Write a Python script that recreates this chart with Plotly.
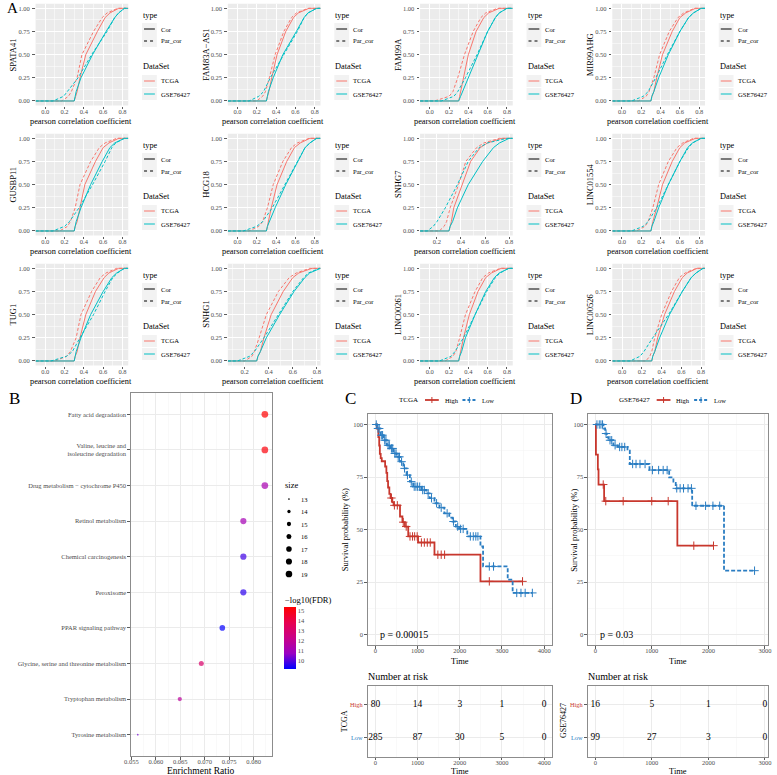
import plotly.graph_objects as go

W, H = 777, 775
SERIF = "Liberation Serif"
TCGA_COL = "#F8766D"
GSE_COL = "#00BFC4"
HIGH_COL = "#C8372D"
LOW_COL = "#2A7DC2"
TICK_COL = "#4D4D4D"

# ---------------- Panel A data (ECDF quantiles) ----------------
genes = ["SPATA41", "FAM83A−AS1", "FAM99A", "MIR99AHG",
         "GUSBP11", "HCG18", "SNHG7", "LINC01554",
         "TUG1", "SNHG1", "LINC00261", "LINC00526"]
ecdf_levels = [0, 0.05, 0.1, 0.25, 0.5, 0.75, 0.9, 0.95, 1.0]
tcga_cor_q = [
    [0.30, 0.315, 0.33, 0.36, 0.42, 0.54, 0.62, 0.67, 0.76],
    [0.30, 0.31, 0.325, 0.355, 0.41, 0.50, 0.58, 0.63, 0.74],
    [0.30, 0.31, 0.32, 0.35, 0.40, 0.48, 0.56, 0.61, 0.72],
    [0.30, 0.31, 0.33, 0.36, 0.42, 0.52, 0.60, 0.66, 0.76],
    [0.30, 0.31, 0.33, 0.36, 0.41, 0.52, 0.60, 0.66, 0.76],
    [0.30, 0.31, 0.32, 0.35, 0.41, 0.51, 0.59, 0.65, 0.75],
    [0.30, 0.31, 0.32, 0.34, 0.41, 0.48, 0.56, 0.62, 0.74],
    [0.30, 0.31, 0.32, 0.36, 0.42, 0.52, 0.60, 0.65, 0.76],
    [0.30, 0.31, 0.33, 0.36, 0.42, 0.52, 0.61, 0.66, 0.76],
    [0.30, 0.31, 0.33, 0.36, 0.42, 0.52, 0.60, 0.65, 0.76],
    [0.30, 0.31, 0.32, 0.35, 0.41, 0.50, 0.58, 0.64, 0.74],
    [0.30, 0.31, 0.33, 0.36, 0.43, 0.53, 0.61, 0.66, 0.76],
]
tcga_par_q = [
    [0.17, 0.24, 0.27, 0.33, 0.38, 0.50, 0.59, 0.64, 0.75],
    [0.20, 0.26, 0.29, 0.33, 0.39, 0.48, 0.56, 0.61, 0.73],
    [0.05, 0.20, 0.24, 0.29, 0.36, 0.45, 0.53, 0.58, 0.70],
    [0.17, 0.25, 0.28, 0.33, 0.39, 0.49, 0.58, 0.64, 0.75],
    [0.15, 0.23, 0.26, 0.31, 0.36, 0.47, 0.56, 0.62, 0.74],
    [0.12, 0.22, 0.26, 0.31, 0.37, 0.47, 0.56, 0.62, 0.74],
    [0.22, 0.26, 0.28, 0.31, 0.38, 0.44, 0.53, 0.59, 0.72],
    [0.15, 0.24, 0.27, 0.32, 0.38, 0.48, 0.57, 0.63, 0.74],
    [0.10, 0.22, 0.26, 0.32, 0.37, 0.48, 0.57, 0.63, 0.74],
    [0.20, 0.26, 0.28, 0.32, 0.38, 0.48, 0.57, 0.63, 0.74],
    [0.16, 0.24, 0.27, 0.31, 0.37, 0.47, 0.55, 0.61, 0.73],
    [0.24, 0.28, 0.30, 0.33, 0.40, 0.50, 0.58, 0.64, 0.75],
]
gse_cor_q = [
    [0.30, 0.31, 0.32, 0.37, 0.49, 0.63, 0.72, 0.76, 0.82],
    [0.30, 0.31, 0.32, 0.37, 0.47, 0.61, 0.69, 0.73, 0.82],
    [0.30, 0.32, 0.34, 0.40, 0.50, 0.60, 0.68, 0.72, 0.80],
    [0.30, 0.31, 0.33, 0.38, 0.48, 0.60, 0.69, 0.74, 0.82],
    [0.30, 0.31, 0.32, 0.37, 0.47, 0.59, 0.67, 0.72, 0.82],
    [0.30, 0.31, 0.33, 0.39, 0.50, 0.62, 0.70, 0.75, 0.82],
    [0.30, 0.31, 0.33, 0.37, 0.46, 0.58, 0.67, 0.72, 0.80],
    [0.30, 0.31, 0.33, 0.38, 0.48, 0.60, 0.68, 0.73, 0.82],
    [0.30, 0.31, 0.32, 0.37, 0.47, 0.60, 0.69, 0.74, 0.82],
    [0.30, 0.31, 0.33, 0.38, 0.49, 0.61, 0.70, 0.74, 0.82],
    [0.30, 0.31, 0.33, 0.37, 0.47, 0.58, 0.67, 0.72, 0.82],
    [0.30, 0.31, 0.33, 0.38, 0.48, 0.61, 0.70, 0.75, 0.82],
]
gse_par_q = [
    [0.08, 0.19, 0.23, 0.34, 0.48, 0.64, 0.72, 0.76, 0.82],
    [0.12, 0.22, 0.27, 0.34, 0.48, 0.62, 0.69, 0.73, 0.82],
    [0.12, 0.25, 0.29, 0.37, 0.49, 0.60, 0.68, 0.72, 0.80],
    [0.10, 0.22, 0.27, 0.35, 0.47, 0.60, 0.69, 0.74, 0.82],
    [0.08, 0.20, 0.25, 0.35, 0.49, 0.62, 0.69, 0.73, 0.82],
    [0.06, 0.20, 0.26, 0.36, 0.49, 0.62, 0.70, 0.75, 0.82],
    [0.12, 0.17, 0.20, 0.27, 0.37, 0.46, 0.55, 0.62, 0.78],
    [0.10, 0.22, 0.27, 0.36, 0.48, 0.60, 0.69, 0.73, 0.82],
    [0.06, 0.22, 0.28, 0.36, 0.50, 0.62, 0.70, 0.75, 0.82],
    [0.14, 0.24, 0.28, 0.36, 0.48, 0.60, 0.69, 0.73, 0.82],
    [0.10, 0.22, 0.26, 0.35, 0.47, 0.59, 0.68, 0.73, 0.82],
    [0.08, 0.18, 0.22, 0.31, 0.47, 0.61, 0.70, 0.75, 0.82],
]
x_ranges_A = [[-0.10, 0.86]] * 6 + [[0.06, 0.83]] + [[-0.10, 0.86]] * 2 + [[0.06, 0.83]] + [[-0.10, 0.86], [-0.10, 0.84]]

# ---------------- Panel B data ----------------
pathways = ["Fatty acid degradation",
            "Valine, leucine and<br>isoleucine degradation",
            "Drug metabolism − cytochrome P450",
            "Retinol metabolism",
            "Chemical carcinogenesis",
            "Peroxisome",
            "PPAR signaling pathway",
            "Glycine, serine and threonine metabolism",
            "Tryptophan metabolism",
            "Tyrosine metabolism"]
enrich_ratio = [0.0823, 0.0823, 0.0823, 0.0779, 0.0779, 0.0779, 0.0736, 0.0693, 0.0649, 0.0563]
gene_count = [19, 19, 19, 18, 18, 18, 17, 16, 15, 13]
neglog_fdr = [15.4, 15.2, 11.2, 11.1, 9.8, 9.6, 9.2, 13.1, 11.8, 10.3]
size_legend_vals = [13, 14, 15, 16, 17, 18, 19]
fdr_ticks = [10, 11, 12, 13, 14, 15]
enrich_ticks = [0.055, 0.060, 0.065, 0.070, 0.075, 0.080]

# ---------------- Panel C data (TCGA) ----------------
tcga_high_t = [0, 35, 70, 90, 105, 125, 150, 230, 260, 280, 300, 330, 360, 400, 430, 583, 640, 700, 778, 1011, 1400, 2490, 3487]
tcga_high_s = [100, 98, 94, 90, 86, 84, 82.5, 80, 77, 73, 70, 67, 65, 63, 61.5, 56.2, 53.5, 51.4, 46.7, 43.8, 38.0, 25.3, 25.3]
tcga_high_cens = [380, 450, 520, 660, 730, 820, 880, 930, 990, 1090, 1160, 1230, 1300, 1480, 1560, 1640, 2700, 3487]
tcga_low_t = [0, 39, 117, 195, 272, 350, 428, 506, 583, 661, 739, 817, 895, 1089, 1206, 1284, 1400, 1517, 1634,
              1751, 1828, 1906, 1984, 2178, 2490, 2552, 3136, 3253, 3720]
tcga_low_s = [100, 98.1, 94.9, 92.5, 90.1, 88.6, 86.2, 84.6, 82.3, 79.1, 75.9, 72.8, 70.4, 68.8, 67.2, 64.9, 62.5,
              60.4, 57.7, 55.7, 53.8, 51.4, 50.3, 46.7, 41.9, 32.4, 26.1, 19.8, 19.8]
tcga_low_cens = [20, 60, 90, 140, 170, 220, 250, 300, 330, 380, 410, 460, 490, 540, 570, 620, 690, 760, 850, 920,
                 960, 1000, 1050, 1120, 1160, 1250, 1330, 1450, 1560, 1700, 1850, 1950, 2020, 2080, 2250, 2320,
                 2380, 2430, 2700, 2800, 3350, 3450, 3550, 3720]
tcga_risk_times = [0, 1000, 2000, 3000, 4000]
tcga_risk_high = [80, 14, 3, 1, 0]
tcga_risk_low = [285, 87, 30, 5, 0]
tcga_p = "p = 0.00015"

# ---------------- Panel D data (GSE76427) ----------------
gse_high_t = [0, 11, 45, 57, 156, 1451, 2090]
gse_high_s = [100, 85.7, 78.6, 71.4, 63.5, 42.3, 42.3]
gse_high_cens = [140, 185, 493, 998, 1289, 1742, 2090]
gse_low_t = [0, 145, 174, 203, 232, 319, 395, 569, 610, 958, 1306, 1381, 1422, 1713, 2276, 2816]
gse_low_s = [100, 98.1, 95.7, 94.0, 92.5, 90.1, 89.3, 87.5, 81.2, 78.3, 74.8, 72.2, 69.6, 61.3, 30.4, 30.4]
gse_low_cens = [29, 70, 99, 128, 190, 260, 290, 350, 430, 470, 520, 660, 720, 790, 880, 1010, 1120, 1200, 1270,
                1440, 1500, 1560, 1640, 1700, 1780, 1950, 2080, 2200, 2816]
gse_risk_times = [0, 1000, 2000, 3000]
gse_risk_high = [16, 5, 1, 0]
gse_risk_low = [99, 27, 3, 0]
gse_p = "p = 0.03"

# =====================================================================
fig = go.Figure()
layout = {}
annotations = []
shapes = []


def ax_name(i, kind):
    return kind + ("" if i == 1 else str(i))


def add_axes(i, x0, x1, ytop, ybot, xopts, yopts):
    xa = dict(domain=[x0 / W, x1 / W], anchor=ax_name(i, "y"))
    xa.update(xopts)
    ya = dict(domain=[1 - ybot / H, 1 - ytop / H], anchor=ax_name(i, "x"))
    ya.update(yopts)
    layout[ax_name(i, "xaxis")] = xa
    layout[ax_name(i, "yaxis")] = ya


def ann(text, px, py, size, color="black", xanchor="center", yanchor="middle", angle=0):
    annotations.append(dict(text=text, x=px / W, y=1 - py / H, xref="paper", yref="paper", showarrow=False,
                            font=dict(family=SERIF, size=size, color=color), xanchor=xanchor,
                            yanchor=yanchor, textangle=angle, borderpad=0))


def rect_px(x0, y0, x1, y1, fill, layer="below"):
    shapes.append(dict(type="rect", xref="paper", yref="paper", x0=x0 / W, x1=x1 / W, y0=1 - y1 / H,
                       y1=1 - y0 / H, fillcolor=fill, line=dict(width=0), layer=layer))


def line_px(x0, y0, x1, y1, color, width=1, dash="solid"):
    shapes.append(dict(type="line", xref="paper", yref="paper", x0=x0 / W, x1=x1 / W, y0=1 - y0 / H,
                       y1=1 - y1 / H, line=dict(color=color, width=width, dash=dash)))


tickfont = dict(family=SERIF, size=6.5, color=TICK_COL)

# ---------------- Panel A ----------------
curve_specs = [
    (tcga_cor_q, TCGA_COL, "solid"),
    (tcga_par_q, TCGA_COL, "3px,2px"),
    (gse_cor_q, GSE_COL, "solid"),
    (gse_par_q, GSE_COL, "3px,2px"),
]
for i, g in enumerate(genes):
    r, c = divmod(i, 4)
    ox, oy = 195 * c, 130 * r
    idx = i + 1
    xr = x_ranges_A[i]
    add_axes(idx, 29 + ox, 123 + ox, 3.7 + oy, 105.6 + oy,
             dict(range=xr, tickmode="linear", tick0=0, dtick=0.2, tickformat=".1f", showgrid=True,
                  gridcolor="white", gridwidth=1, zeroline=False, showline=False, ticks="outside",
                  ticklen=2.5, tickcolor="#333333", tickwidth=0.8, tickfont=tickfont, ticklabelstandoff=-3,
                  minor=dict(dtick=0.1, tick0=0, showgrid=True, gridcolor="white", gridwidth=0.5, ticks="")),
             dict(range=[-0.05, 1.05], tickvals=[0, 0.25, 0.5, 0.75, 1.0],
                  ticktext=["0.00", "0.25", "0.50", "0.75", "1.00"], showgrid=True, gridcolor="white",
                  gridwidth=1, zeroline=False, showline=False, ticks="outside", ticklen=2.5,
                  tickcolor="#333333", tickwidth=0.8, tickfont=tickfont, ticklabelstandoff=1,
                  minor=dict(tickvals=[0.125, 0.375, 0.625, 0.875], showgrid=True, gridcolor="white",
                             gridwidth=0.5, ticks="")))
    shapes.append(dict(type="rect", xref=ax_name(idx, "x") + " domain", yref=ax_name(idx, "y") + " domain",
                       x0=0, x1=1, y0=0, y1=1, fillcolor="#EBEBEB", line=dict(width=0), layer="below"))
    for q, col, dash in curve_specs:
        xs = [xr[0]] + q[i] + [xr[1]]
        ys = [0] + ecdf_levels + [1]
        fig.add_trace(go.Scatter(x=xs, y=ys, mode="lines", line=dict(color=col, width=1, dash=dash),
                                 xaxis=ax_name(idx, "x"), yaxis=ax_name(idx, "y"), showlegend=False,
                                 hoverinfo="skip"))
    # titles
    ann(g, 6 + ox, 54.6 + oy, 8.5, angle=-90)
    ann("pearson correlation coefficient", 75 + ox, 121 + oy, 8.3)
    # legends
    ann("type", 137 + ox, 15 + oy, 8.3, xanchor="left")
    ann("DataSet", 137 + ox, 67 + oy, 8.3, xanchor="left")
    for yc, lab, col, dash in [(29, "Cor", "black", "solid"), (41, "Par_cor", "black", "dot"),
                               (81, "TCGA", TCGA_COL, "solid"), (94, "GSE76427", GSE_COL, "solid")]:
        rect_px(137 + ox, yc - 6 + oy, 152 + ox, yc + 6 + oy, "#F2F2F2", layer="above")
        line_px(139 + ox, yc + oy, 150 + ox, yc + oy, col, 1, dash)
        ann(lab, 155 + ox, yc + oy, 6.6, xanchor="left")

# ---------------- Panel B ----------------
def dot_diam(s):
    return 1.0 * ((1 + (s - 13) / 6 * 35) ** 0.5) + 0.7


add_axes(13, 125.7, 269, 393, 756,
         dict(range=[0.0549, 0.0838], tickvals=enrich_ticks, ticktext=["%.3f" % v for v in enrich_ticks],
              showgrid=True, gridcolor="#EBEBEB", gridwidth=1, zeroline=False, showline=True, mirror=True,
              linecolor="#8C8C8C", linewidth=1, ticks="outside", ticklen=2.5, tickcolor="#333333",
              tickwidth=0.8, tickfont=tickfont, ticklabelstandoff=-3,
              minor=dict(tickvals=[0.0575, 0.0625, 0.0675, 0.0725, 0.0775, 0.0825], showgrid=True,
                         gridcolor="#F4F4F4", gridwidth=0.5, ticks="")),
         dict(type="category", categoryorder="array", categoryarray=list(reversed(pathways)),
              range=[-0.6, 9.6], showgrid=True, gridcolor="#EBEBEB", gridwidth=1, zeroline=False,
              showline=True, mirror=True, linecolor="#8C8C8C", linewidth=1, ticks="outside", ticklen=2.5,
              tickcolor="#333333", tickwidth=0.8, tickfont=tickfont))
colorscale = [[0, "#0000FF"], [0.25, "#9A00C3"], [0.5, "#C90088"], [0.75, "#E8004F"], [1, "#FF0000"]]
fig.add_trace(go.Scatter(
    x=enrich_ratio, y=pathways, mode="markers", xaxis="x13", yaxis="y13", showlegend=False, hoverinfo="skip",
    marker=dict(size=[dot_diam(s) for s in gene_count], color=neglog_fdr, colorscale=colorscale,
                cmin=9.16, cmax=15.4, line=dict(width=0),
                colorbar=dict(x=281 / W, xanchor="left", y=1 - 669 / H, yanchor="bottom",
                              len=(669 - 607) / H, lenmode="fraction", thickness=12, thicknessmode="pixels",
                              outlinewidth=0, tickvals=fdr_ticks, tickfont=tickfont, ticks="",
                              xpad=0, ypad=0, title=dict(text="")))))
ann("Enrichment Ratio", 197, 770.5, 9.5)
ann("size", 281, 485, 8.5, xanchor="left")
for k, s in enumerate(size_legend_vals):
    yc = 499 + 12.5 * k
    d = dot_diam(s)
    shapes.append(dict(type="circle", xref="paper", yref="paper", x0=(286 - d / 2) / W, x1=(286 + d / 2) / W,
                       y0=1 - (yc + d / 2) / H, y1=1 - (yc - d / 2) / H, fillcolor="black",
                       line=dict(width=0)))
    ann(str(s), 297, yc, 6.5, xanchor="left")
ann("−log10(FDR)", 281, 600, 8.5, xanchor="left")


# ---------------- Panels C & D ----------------
def surv_at(ts, ss, t):
    v = ss[0]
    for tt, s in zip(ts, ss):
        if tt <= t:
            v = s
    return v


def km_panel(ikm, irisk, x0, x1, xrange, xticks, xminor, high, low, risk_t, risk_h, risk_l, pval,
             dataset, label_x, ylab_x, legend_x):
    grid = dict(showgrid=True, gridcolor="#EBEBEB", gridwidth=1, zeroline=False, showline=True, mirror=True,
                linecolor="#8C8C8C", linewidth=1, ticks="outside", ticklen=2.5, tickcolor="#333333",
                tickwidth=0.8, tickfont=tickfont)
    add_axes(ikm, x0, x1, 414, 645,
             dict(range=xrange, tickvals=xticks, ticklabelstandoff=-3,
                  minor=dict(tickvals=xminor, showgrid=True, gridcolor="#F4F4F4", gridwidth=0.5, ticks=""),
                  **grid),
             dict(range=[-5, 105], tickvals=[0, 25, 50, 75, 100],
                  minor=dict(tickvals=[12.5, 37.5, 62.5, 87.5], showgrid=True, gridcolor="#F4F4F4",
                             gridwidth=0.5, ticks=""), **grid))
    add_axes(irisk, x0, x1, 685.5, 756.7,
             dict(range=xrange, tickvals=xticks, ticklabelstandoff=-3,
                  minor=dict(tickvals=xminor, showgrid=True, gridcolor="#F4F4F4", gridwidth=0.5, ticks=""),
                  **grid),
             dict(range=[-0.6, 1.6], tickvals=[0, 1], ticktext=["", ""], **grid))
    xa, ya = ax_name(ikm, "x"), ax_name(ikm, "y")
    for (ts, ss, cens), col, dash in [(high, HIGH_COL, "solid"), (low, LOW_COL, "4px,2px")]:
        fig.add_trace(go.Scatter(x=ts, y=ss, mode="lines", line=dict(color=col, width=1.8, dash=dash,
                                                                   shape="hv"),
                                 xaxis=xa, yaxis=ya, showlegend=False, hoverinfo="skip"))
        fig.add_trace(go.Scatter(x=cens, y=[surv_at(ts, ss, t) for t in cens], mode="markers",
                                 marker=dict(symbol="cross-thin", size=6, line=dict(width=1, color=col)),
                                 xaxis=xa, yaxis=ya, showlegend=False, hoverinfo="skip"))
    xr_, yr_ = ax_name(irisk, "x"), ax_name(irisk, "y")
    fig.add_trace(go.Scatter(x=risk_t, y=[1] * len(risk_t), mode="text", text=[str(v) for v in risk_h],
                             textfont=dict(family=SERIF, size=9.5, color="black"), xaxis=xr_, yaxis=yr_,
                             showlegend=False, hoverinfo="skip"))
    fig.add_trace(go.Scatter(x=risk_t, y=[0] * len(risk_t), mode="text", text=[str(v) for v in risk_l],
                             textfont=dict(family=SERIF, size=9.5, color="black"), xaxis=xr_, yaxis=yr_,
                             showlegend=False, hoverinfo="skip"))
    cx = (x0 + x1) / 2
    ann("Time", cx, 660.5, 8.5)
    ann("Time", cx, 771, 8.5)
    ann("Survival probability (%)", ylab_x, 530, 8.5, angle=-90)
    ann(pval, x0 + 11, 634, 10, xanchor="left")
    ann("Number at risk", x0 - 1, 676.5, 10, xanchor="left")
    ann("High", x0 - 4, 704.5, 6.3, color=HIGH_COL, xanchor="right")
    ann("Low", x0 - 4, 737.5, 6.3, color=LOW_COL, xanchor="right")
    ann(dataset, label_x, 721, 8, angle=-90)
    # top legend
    lx = legend_x
    ann(dataset, lx, 400, 7, xanchor="right")
    line_px(lx + 6, 400, lx + 20, 400, HIGH_COL, 1.8)
    line_px(lx + 13, 397, lx + 13, 403, HIGH_COL, 1)
    ann("High", lx + 25, 400, 6.5, xanchor="left")
    line_px(lx + 44, 400, lx + 58, 400, LOW_COL, 1.8, "3px,2px")
    line_px(lx + 51, 397, lx + 51, 403, LOW_COL, 1)
    ann("Low", lx + 63, 400, 6.5, xanchor="left")


km_panel(14, 15, 366, 553, [-180, 4190], [0, 1000, 2000, 3000, 4000], [500, 1500, 2500, 3500],
         (tcga_high_t, tcga_high_s, tcga_high_cens), (tcga_low_t, tcga_low_s, tcga_low_cens),
         tcga_risk_times, tcga_risk_high, tcga_risk_low, tcga_p, "TCGA", 342, 343, 418)
km_panel(16, 17, 589.3, 771.7, [-130, 3050], [0, 1000, 2000, 3000], [500, 1500, 2500],
         (gse_high_t, gse_high_s, gse_high_cens), (gse_low_t, gse_low_s, gse_low_cens),
         gse_risk_times, gse_risk_high, gse_risk_low, gse_p, "GSE76427", 564, 575, 653)

# panel labels
ann("A", 5.5, 8, 15)
ann("B", 8, 398, 17)
ann("C", 348, 398, 17)
ann("D", 577, 398, 17)

fig.update_layout(**layout)
fig.update_layout(width=W, height=H, margin=dict(l=0, r=0, t=0, b=0), autosize=False,
                  paper_bgcolor="white", plot_bgcolor="white", showlegend=False,
                  annotations=annotations, shapes=shapes,
                  font=dict(family=SERIF, color="black"))
fig.write_html("out.html", config={"displayModeBar": False, "staticPlot": True},
               post_script="document.body.style.margin='0';document.body.style.padding='0';"
                           "document.body.style.overflow='hidden';")
